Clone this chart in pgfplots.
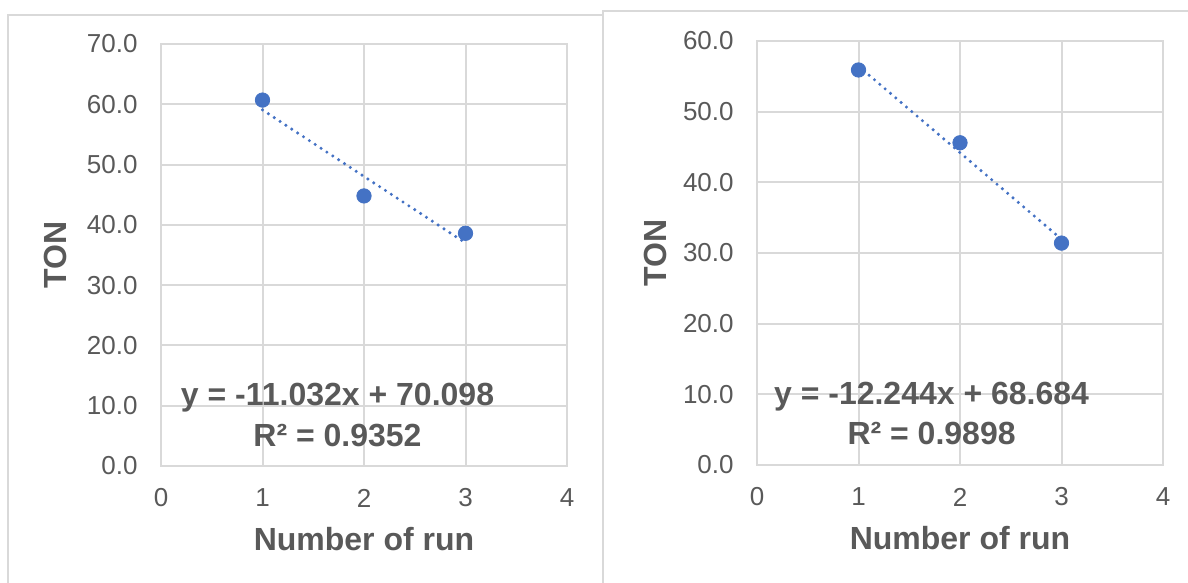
\documentclass[border=0pt]{standalone}
\usepackage{pgfplots}
\pgfplotsset{compat=1.18}
\usepackage{fontspec}
\setmainfont{Liberation Sans}
\definecolor{ser}{HTML}{4472C4}
\definecolor{grd}{HTML}{D9D9D9}
\definecolor{txt}{HTML}{595959}
\tikzset{eqn/.style={font=\bfseries\fontsize{16}{19}\selectfont, text=txt, inner sep=0pt}}
\pgfplotsset{
  myax/.style={
    scale only axis, width=203pt,
    xmin=0, xmax=4, ymin=0,
    xtick={0,1,2,3,4},
    grid=major, grid style={grd, line width=1pt},
    axis line style={grd, line width=1pt},
    major tick length=0pt,
    /pgf/number format/assume math mode=true,
    tick label style={font=\fontsize{13}{15}\selectfont, text=txt, inner sep=0pt},
    yticklabel={\pgfmathprintnumber[fixed,fixed zerofill,precision=1]{\tick}},
    xticklabel style={anchor=center, yshift=-16pt},
    yticklabel style={anchor=east, xshift=-11.5pt},
    label style={font=\bfseries\fontsize{16}{19}\selectfont, text=txt},
    xlabel={Number of run}, ylabel={TON},
    anchor=south west, clip=false,
  },
}
\begin{document}
\begin{tikzpicture}
\useasboundingbox (0,0) rectangle (594pt,291.5pt);
\draw[grd, line width=1pt] (4pt,-1pt) -- (4pt,284pt) -- (301.5pt,284pt);
\draw[grd, line width=1pt] (301.5pt,-1pt) -- (301.5pt,286pt) -- (595pt,286pt);
% left
\begin{axis}[myax, at={(80.5pt,58.5pt)}, height=211pt, ymax=70, ytick={0,10,...,70},
  xlabel style={at={(axis description cs:0.5,-0.173)}, anchor=center},
  ylabel style={at={(axis description cs:-0.261,0.5)}, anchor=center}]
\addplot[ser, line width=1.7pt, line cap=round, dash pattern=on 0pt off 3.5pt] coordinates {(1,59.066) (3,37.002)};
\addplot[only marks, mark=*, mark size=3.6pt, ser, mark options={draw=ser, fill=ser}] coordinates {(1,60.7) (2,44.8) (3,38.6)};
\node[eqn] at (axis cs:1.739,11.28) {y = -11.032x + 70.098};
\node[eqn] at (axis cs:1.739,5.14) {R² = 0.9352};
\end{axis}
% right
\begin{axis}[myax, at={(378.5pt,59pt)}, height=212pt, ymax=60, ytick={0,10,...,60},
  xlabel style={at={(axis description cs:0.5,-0.173)}, anchor=center},
  ylabel style={at={(axis description cs:-0.251,0.5)}, anchor=center}]
\addplot[ser, line width=1.7pt, line cap=round, dash pattern=on 0pt off 3.5pt] coordinates {(1,56.44) (3,31.952)};
\addplot[only marks, mark=*, mark size=3.6pt, ser, mark options={draw=ser, fill=ser}] coordinates {(1,55.9) (2,45.6) (3,31.4)};
\node[eqn] at (axis cs:1.72,9.62) {y = -12.244x + 68.684};
\node[eqn] at (axis cs:1.72,4.53) {R² = 0.9898};
\end{axis}
\end{tikzpicture}
\end{document}
